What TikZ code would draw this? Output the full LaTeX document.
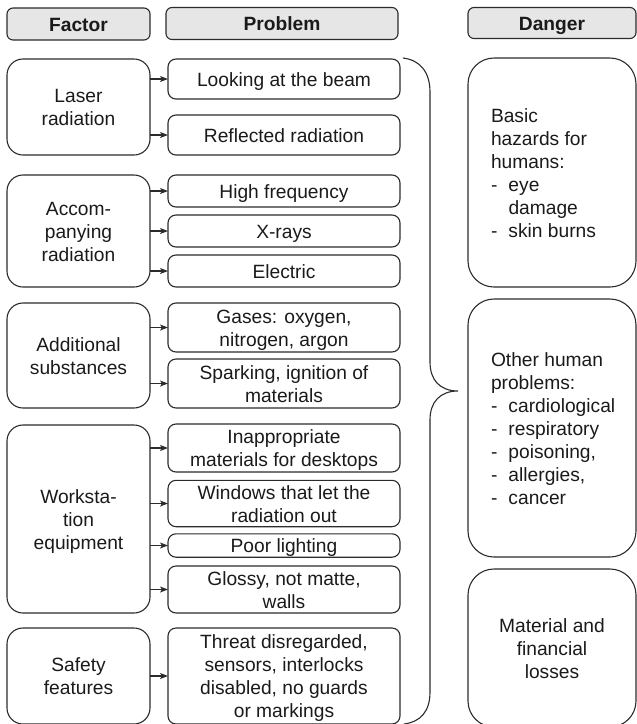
\documentclass[tikz,border=0pt]{standalone}
\usepackage{fontspec}
\setmainfont{Liberation Sans}
\usetikzlibrary{arrows.meta}
\definecolor{ink}{HTML}{2B2B2B}
\definecolor{txt}{HTML}{1A1A1A}
\definecolor{headfill}{HTML}{E6E6E6}
\newcommand{\dashitem}{\makebox[17.5pt][l]{-}}
% fixed line box above the first and below the last baseline,
% so that every text block is centred in the same way
\newcommand{\bx}[1]{\rule{0pt}{19pt}#1\rule[-4.4pt]{0pt}{0pt}}
\begin{document}
\begin{tikzpicture}[x=1pt,y=-1pt,
  every node/.style={inner sep=0pt, outer sep=0pt, text=txt,
    font=\fontsize{19.2}{23}\selectfont, align=center},
  base/.style={draw=ink, line width=1.1pt},
  headbox/.style={base, fill=headfill, rounded corners=6pt, minimum height=32pt,
    font=\fontsize{19.2}{23}\selectfont\bfseries},
  factorbox/.style={base, rounded corners=16pt, minimum width=143pt},
  probbox/.style={base, rounded corners=8pt, minimum width=232pt},
  dangerbox/.style={base, rounded corners=26pt, minimum width=168pt},
  arr/.style={draw=ink, line width=1.1pt, -{Stealth[length=8pt,width=6pt,inset=2pt]}}
]
\useasboundingbox (0,0) rectangle (637,724);

% column headers
\node[headbox, minimum width=143pt] (hfac) at (78.5,24) {\bx{Factor}};
\node[headbox, minimum width=232pt] (hprob) at (282,23.5) {\bx{Problem}};
\node[headbox, minimum width=168pt, minimum height=31pt] (hdan) at (552,23) {\bx{Danger}};

% factors
\node[factorbox, minimum height=96pt]  (laser)  at (78.5,107)   {\bx{Laser\\radiation}};
\node[factorbox, minimum height=112pt] (accomp) at (78.5,231)   {\bx{Accom-\\panying\\radiation}};
\node[factorbox, minimum height=105pt] (addit)  at (78.5,355.5) {\bx{Additional\\substances}};
\node[factorbox, minimum height=188pt] (work)   at (78.5,519)   {\bx{Worksta-\\tion\\equipment}};
\node[factorbox, minimum height=96pt]  (safety) at (78.5,676)   {\bx{Safety\\features}};

% problems
\node[probbox, minimum height=40pt]  (look)   at (284,79)    {\bx{Looking at the beam}};
\node[probbox, minimum height=40pt]  (refl)   at (284,135)   {\bx{Reflected radiation}};
\node[probbox, minimum height=32pt]  (high)   at (284,191)   {\bx{High frequency}};
\node[probbox, minimum height=32pt]  (xray)   at (284,231)   {\bx{X-rays}};
\node[probbox, minimum height=32pt]  (elec)   at (284,271)   {\bx{Electric}};
\node[probbox, minimum height=49pt]  (gases)  at (284,327.5) {\bx{Gases: oxygen,\\nitrogen, argon}};
\node[probbox, minimum height=49pt]  (spark)  at (284,383.5) {\bx{Sparking, ignition of\\materials}};
\node[probbox, minimum height=48pt]  (inapp)  at (284,448)   {\bx{Inappropriate\\materials for desktops}};
\node[probbox, minimum height=45pt]  (wind)   at (284,503.5) {\bx{Windows that let the\\radiation out}};
\node[probbox, minimum height=23pt]  (poor)   at (284,545.5) {\bx{Poor lighting}};
\node[probbox, minimum height=47pt]  (glossy) at (284,589.5) {\bx{Glossy, not matte,\\walls}};
\node[probbox, minimum height=96pt]  (threat) at (284,676)   {\bx{Threat disregarded,\\sensors, interlocks\\disabled, no guards\\or markings}};

% factor -> problem connectors
\foreach \f/\p in {laser/look, laser/refl, accomp/high, accomp/xray, accomp/elec,
                   addit/gases, addit/spark, work/inapp, work/wind, work/poor,
                   work/glossy, safety/threat}
  \draw[arr] (\f.east |- \p.west) -- (\p.west);

% dangers
\node[dangerbox, minimum height=229pt] (dbasic) at (552,172.5) {};
\node[anchor=west, align=left] (tbasic) at (491,172.5)
  {\bx{Basic\\hazards for\\humans:\\\dashitem eye\\\hspace*{17.5pt}damage\\\dashitem skin burns}};
\node[dangerbox, minimum height=258pt] (dother) at (552,428) {};
\node[anchor=west, align=left] (tother) at (491,428)
  {\bx{Other human\\problems:\\\dashitem cardiological\\\dashitem respiratory\\\dashitem poisoning,\\\dashitem allergies,\\\dashitem cancer}};
\node[dangerbox, minimum height=158pt] (dloss) at (552,648) {\bx{Material and\\financial\\losses}};

% brace gathering all problems
\coordinate (btop) at (403,58);
\coordinate (btip) at (458,391);
\coordinate (bbot) at (404,724);
\draw[draw=ink, line width=1.1pt]
  (btop) .. controls (420,60) and (430,72) .. (430,92)
  -- (430,362) .. controls (430,380) and (440,391) .. (btip)
  .. controls (440,391) and (430,402) .. (430,420)
  -- (430,692) .. controls (430,712) and (420,722) .. (bbot);
\end{tikzpicture}
\end{document}
